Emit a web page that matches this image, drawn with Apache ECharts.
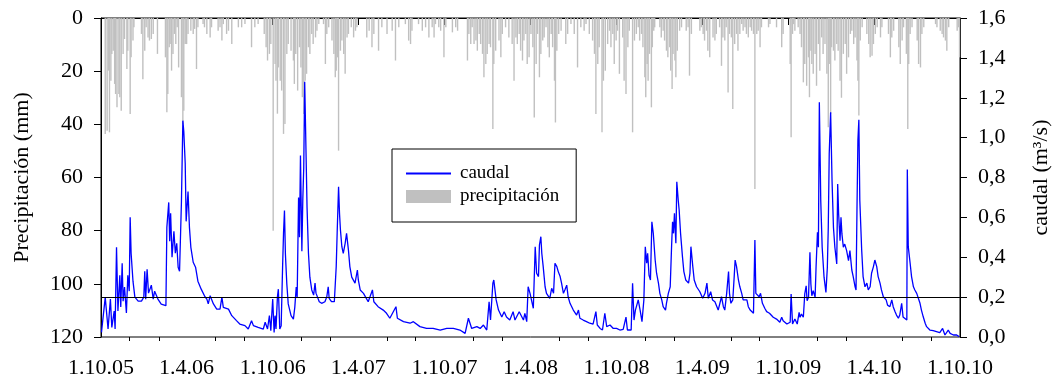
<!DOCTYPE html>
<html>
<head>
<meta charset="utf-8">
<script src="https://cdn.jsdelivr.net/npm/echarts@6/dist/echarts.min.js"></script>
<style>
html,body{margin:0;padding:0;background:#fff;}
#chart{width:1054px;height:382px;}
</style>
</head>
<body>
<div id="chart"></div>
<script>
// ---------------- DATA ----------------
// Periodo: 1.10.2005 - 1.10.2010 (serie diaria). Días contados desde 1.10.2005.
const startDate = '2005-10-01';
const endDate = '2010-10-01';
const majorTickMonths = [4, 10];       // etiquetas 1.4 y 1.10
const minorTickMonths = [2, 6, 8, 12]; // marcas menores
const leftTicks = [0, 20, 40, 60, 80, 100, 120];
const rightTicks = [0, 0.2, 0.4, 0.6, 0.8, 1.0, 1.2, 1.4, 1.6];
const umbralCaudal = 0.2;

// caudal (m3/s): [día, valor]
const caudalPts = [
[1,0.023],[9,0.199],[15,0.04],[20,0.19],[23,0.048],[28,0.13],[30,0.04],[33,0.45],[36,0.13],[40,0.31],[42,0.15],[45,0.37],[47,0.18],[50,0.25],[54,0.12],[57,0.31],[60,0.23],[62,0.6],[64,0.42],[68,0.28],[72,0.20],[79,0.18],[86,0.18],[91,0.2],[93,0.33],[95,0.19],[98,0.34],[101,0.22],[107,0.26],[111,0.19],[114,0.23],[121,0.19],[128,0.165],[138,0.157],[140,0.55],[144,0.675],[146,0.48],[148,0.62],[151,0.40],[155,0.53],[158,0.42],[161,0.47],[164,0.35],[167,0.33],[171,0.68],[174,1.085],[176,1.03],[179,0.87],[181,0.58],[185,0.73],[188,0.55],[191,0.45],[196,0.375],[201,0.35],[206,0.28],[213,0.24],
[221,0.202],[225,0.19],[228,0.166],[232,0.207],[235,0.216],[239,0.166],[246,0.14],[253,0.14],[257,0.2],[260,0.149],[271,0.14],[278,0.107],[288,0.082],[295,0.065],[306,0.057],[313,0.04],[320,0.082],[324,0.057],[334,0.048],[345,0.04],[349,0.074],[354,0.04],[358,0.107],[361,0.032],[365,0.19],[368,0.023],[370,0.107],[372,0.04],[375,0.2],[377,0.24],[380,0.04],[383,0.057],[386,0.35],[388,0.52],[390,0.634],[392,0.416],[395,0.266],[398,0.166],[404,0.107],[409,0.09],
[412,0.15],[415,0.25],[417,0.2],[420,0.70],[422,0.50],[424,0.91],[427,0.43],[429,0.69],[431,0.85],[433,1.28],[435,1.03],[438,0.65],[441,0.42],[444,0.30],[448,0.236],[452,0.21],
[455,0.27],[457,0.22],[460,0.227],[464,0.177],[469,0.169],[476,0.177],[480,0.202],[483,0.252],[485,0.194],[490,0.177],[496,0.177],[500,0.353],[502,0.52],[505,0.754],[507,0.62],[509,0.537],[512,0.453],[515,0.42],[519,0.47],[522,0.52],[526,0.436],[529,0.353],[533,0.30],[540,0.27],[545,0.336],[547,0.286],[551,0.236],[558,0.219],[568,0.177],[577,0.236],[580,0.177],[589,0.152],[593,0.16],[600,0.135],[607,0.119],[614,0.094],[627,0.152],[630,0.094],[643,0.077],[657,0.069],[664,0.077],[678,0.052],[692,0.043],[706,0.043],[721,0.035],[735,0.043],[749,0.043],[763,0.035],[774,0.018],[781,0.094],[788,0.043],[799,0.052],[806,0.043],[813,0.06],[820,0.035],[825,0.177],[828,0.085],[833,0.27],[835,0.286],[840,0.186],[845,0.135],[852,0.10],[857,0.127],[862,0.10],[869,0.085],[876,0.127],[880,0.085],[889,0.127],
[891,0.127],[898,0.085],[901,0.119],[905,0.077],[908,0.252],[912,0.219],[915,0.186],[919,0.144],[923,0.453],[926,0.32],[930,0.303],[932,0.461],[935,0.503],[937,0.42],[940,0.353],[944,0.252],[947,0.219],[954,0.194],[958,0.244],[962,0.219],[965,0.37],[969,0.353],[972,0.328],[976,0.303],[979,0.27],[983,0.219],[986,0.236],[990,0.26],[993,0.202],[997,0.169],[1004,0.135],[1011,0.11],[1015,0.135],[1018,0.094],[1025,0.085],[1032,0.077],[1039,0.069],[1046,0.065],[1052,0.127],[1055,0.06],[1061,0.043],[1066,0.035],[1071,0.119],[1075,0.052],[1082,0.06],[1089,0.043],[1096,0.043],[1103,0.035],[1110,0.038],[1116,0.10],[1119,0.035],[1123,0.043],[1127,0.035],[1130,0.27],[1133,0.085],[1136,0.135],[1139,0.16],[1142,0.186],[1146,0.135],[1150,0.077],[1154,0.186],[1157,0.453],[1160,0.37],[1162,0.42],[1165,0.31],[1168,0.286],[1171,0.578],[1174,0.52],[1178,0.386],[1181,0.32],[1185,0.27],[1188,0.219],[1192,0.186],[1195,0.152],[1200,0.135],[1202,0.169],[1206,0.219],[1210,0.252],[1213,0.461],[1215,0.578],[1217,0.52],[1219,0.62],[1222,0.47],[1224,0.779],[1227,0.687],[1229,0.637],[1232,0.52],[1236,0.403],[1239,0.328],[1243,0.286],[1249,0.27],[1252,0.32],[1254,0.453],[1258,0.353],[1261,0.286],[1266,0.252],[1273,0.227],[1279,0.194],[1284,0.219],[1288,0.27],[1291,0.194],[1296,0.227],[1300,0.186],[1305,0.177],[1312,0.135],[1316,0.127],[1319,0.202],[1323,0.152],[1326,0.135],[1330,0.219],[1334,0.328],[1336,0.219],[1339,0.169],[1343,0.186],[1346,0.303],[1348,0.386],[1351,0.353],[1355,0.286],[1358,0.252],[1362,0.219],[1365,0.186],[1373,0.186],[1376,0.152],[1380,0.135],[1383,0.127],[1387,0.119],[1390,0.487],[1392,0.219],[1395,0.21],[1399,0.202],[1402,0.219],[1406,0.169],[1411,0.144],[1415,0.127],[1421,0.119],
[1429,0.099],[1436,0.09],[1443,0.074],[1447,0.099],[1450,0.082],[1458,0.065],[1465,0.074],[1467,0.216],[1470,0.065],[1475,0.09],[1480,0.065],[1484,0.124],[1486,0.099],[1489,0.115],[1493,0.099],[1496,0.216],[1499,0.257],[1501,0.182],[1504,0.199],[1507,0.425],[1509,0.266],[1511,0.207],[1514,0.232],[1518,0.199],[1520,0.349],[1523,0.525],[1525,0.45],[1527,1.177],[1530,0.684],[1533,0.45],[1537,0.30],[1541,0.224],[1544,0.349],[1546,0.55],[1548,0.918],[1551,1.127],[1554,0.784],[1557,0.55],[1560,0.45],[1564,0.366],[1566,0.767],[1568,0.617],[1571,0.483],[1573,0.60],[1575,0.517],[1578,0.45],[1581,0.466],[1585,0.433],[1589,0.383],[1592,0.433],
[1596,0.336],[1599,0.303],[1603,0.252],[1605,0.236],[1607,0.637],[1609,0.988],[1611,1.089],[1613,0.687],[1617,0.436],[1620,0.303],[1624,0.252],[1628,0.27],[1631,0.236],[1635,0.252],[1638,0.32],[1642,0.353],[1645,0.386],[1649,0.353],[1652,0.303],[1656,0.27],[1659,0.236],[1663,0.202],[1669,0.186],[1672,0.16],[1677,0.152],[1681,0.186],[1684,0.152],[1688,0.127],[1691,0.11],[1695,0.094],[1698,0.11],[1702,0.169],[1705,0.10],[1709,0.094],[1713,0.085],[1714,0.84],[1716,0.453],[1720,0.37],[1723,0.303],[1727,0.252],[1730,0.236],[1734,0.219],[1737,0.21],[1741,0.169],[1744,0.135],[1748,0.10],[1752,0.069],[1755,0.052],[1762,0.035],[1769,0.032],[1776,0.027],[1783,0.022],[1789,0.043],[1794,0.01],[1801,0.035],[1805,0.018],[1812,0.01],[1819,0.01],[1824,0.002]
];

// precipitación (mm): [día, valor]
const precipPts = [
[9,43.6],[13,42.4],[16,19.8],[18,43],[21,23.6],[23,13.5],[26,12.3],[29,24.8],[31,28.6],[34,33.6],[38,28.6],[40,29.8],[43,34.9],[47,13.5],[50,7.9],[55,19.2],[57,12.3],[62,36.1],[64,14.8],[68,8.5],[70,3.5],[86,6],[89,23],[93,12.3],[96,3.5],[100,7.3],[103,8.5],[107,7.9],[111,6],[120,13.5],[137,14.8],[140,35.5],[142,28.6],[145,11],[147,9.8],[150,19.8],[153,13.5],[156,6],[159,9.8],[162,3.5],[165,18.6],[171,29.8],[174,39.9],[176,34.9],[179,9.8],[182,9.8],[185,6],[191,4.8],[196,6],[199,4.1],[203,19.2],[206,3.5],[217,2.3],[220,3.5],
[225,6],[232,7.3],[235,3.5],[249,4.8],[253,3.5],[257,8.5],[260,2.3],[267,6],[271,4.8],[278,9.8],[292,3.5],[299,3.5],[306,2.3],[320,11],[327,3.5],[334,2.3],[347,6],[351,11],[354,16],[358,13.5],[361,9.8],[366,80],[370,17.3],[372,23.6],[375,36],[377,18.6],[381,23.6],[384,27.3],[388,43.6],[391,39.9],[395,13.5],[398,9.8],[404,12.3],[409,16],[411,24.8],[414,13.5],[418,27.3],[422,11],[425,18.6],[428,29.8],[431,36.1],[434,23.6],[437,21],[441,11],[444,13.5],[448,6],[451,9.8],
[456,7.3],[459,4.8],[463,2.3],[473,2.3],[477,17.3],[480,6],[484,3.5],[491,8.5],[495,13.5],[498,22.3],[500,19.8],[503,14.8],[505,49.9],[509,12.3],[512,8.5],[516,13.5],[519,21],[523,7.3],[526,6],[532,3.5],[537,7.3],[541,4.8],[544,3.5],[565,7.3],[570,4.8],[576,11],[580,6],[590,12.3],[597,3.5],[608,6],[619,4.8],[626,16],[633,3.5],[647,2.3],[654,8.5],[658,9.8],[661,4.8],[675,2.3],
[683,4.8],[690,3.5],[697,7.3],[704,3.5],[708,7.3],[711,2.3],[718,3.5],[722,4.8],[729,14.8],[733,3.5],[747,5.4],[754,3.5],[758,4.8],[779,16],[782,6],[786,9.8],[789,3.5],[793,9.8],[797,8.5],[800,12.3],[804,6],[807,9.8],[811,13.5],[814,22.3],[818,17.3],[821,13.5],[825,9.8],[828,11],[833,41.8],[835,17.3],[839,12.3],[846,8.5],[850,14.8],[853,6],[860,3.5],[867,7.3],[874,9.8],[878,23.6],[882,7.3],[885,9.8],[889,6],[892,12.3],[896,16],[899,8.5],[903,6],[906,17.3],
[910,14.8],[914,6],[918,11],[921,37.4],[925,17.3],[928,6],[932,22.3],[935,13.5],[939,8.5],[942,7.3],[946,3.5],[950,11],[953,14.8],[957,6],[960,11],[964,23.6],[966,39.3],[969,12.3],[973,6],[978,4.8],[988,9.8],[992,6],[999,2.3],[1006,6],[1013,18.6],[1020,3.5],[1027,4.8],[1031,2.3],[1038,6],[1045,8.5],[1049,13.5],[1052,36.1],[1056,17.3],[1059,11],[1065,43],[1068,23.6],[1072,19.8],[1077,9.8],[1081,4.8],[1084,11],[1088,6],[1091,17.3],[1095,8.5],[1098,4.8],[1102,21],[1109,7.3],[1112,23.6],[1116,28.6],[1120,11],[1123,4.8],[1130,43],[1134,8.5],
[1138,6],[1142,3.5],[1145,8.5],[1149,6],[1152,11],[1156,22.3],[1158,29.8],[1161,17.3],[1163,23.6],[1166,13.5],[1170,33.6],[1172,11],[1175,4.8],[1177,3.5],[1188,3.5],[1191,7.3],[1195,4.8],[1198,8.5],[1202,12.3],[1205,14.8],[1209,11],[1211,19.8],[1214,26.7],[1216,13.5],[1220,16],[1222,22.3],[1225,12.3],[1230,4.8],[1234,3.5],[1244,4.8],[1248,3.5],[1251,21.7],[1255,6],[1273,4.8],[1276,3.5],[1280,6],[1283,8.5],[1287,4.8],[1290,12.3],[1294,14.8],[1301,7.3],[1305,8.5],[1308,6],[1315,3.5],[1319,18],[1322,7.3],[1326,8.5],[1329,3.5],[1333,28],[1336,6],[1340,7.3],[1343,34.2],[1347,9.8],[1351,6],[1354,12.3],[1358,6],
[1362,2.3],[1365,4.8],[1369,3.5],[1372,6],[1376,7.3],[1380,3.5],[1383,4.8],[1387,6],[1390,64.3],[1394,6],[1397,4.8],[1401,11],[1404,3.5],[1419,3.5],[1422,2.3],[1436,3.5],[1447,11],[1450,6],[1465,17.3],[1467,44.9],[1470,6],[1472,2.3],[1475,4.8],[1482,3.5],[1486,6],[1489,11],[1493,24.2],[1496,17.3],[1500,25.5],[1504,14.8],[1506,29.8],[1509,12.3],[1511,17.3],[1514,21],[1518,13.5],[1521,25.5],[1525,9.8],[1528,19.8],[1532,7.3],[1535,13.5],[1539,9.8],[1543,21],[1546,41.1],[1548,17.3],[1551,36.1],[1553,11],[1557,12.3],[1560,16],[1564,9.8],[1567,12.3],[1571,23.6],[1574,30],[1578,13.5],[1582,9.8],[1585,21],[1589,14.8],
[1593,6],[1596,4.8],[1600,9.8],[1603,7.3],[1607,16],[1609,23.6],[1611,36.7],[1614,8.5],[1618,3.5],[1628,6],[1632,9.8],[1635,14.8],[1639,14.2],[1642,9.8],[1646,6],[1650,3.5],[1657,7.3],[1660,3.5],[1674,6],[1678,14.8],[1681,7.3],[1685,4.8],[1696,11],[1699,17.3],[1703,8.5],[1706,3.5],[1712,13.5],[1715,41.8],[1717,17.3],[1720,6],[1724,3.5],[1735,8.5],[1738,17.3],[1742,18.6],[1745,6],[1749,3.5],[1774,2.3],[1777,3.5],[1784,4.8],[1788,6],[1791,7.3],[1795,8.5],[1798,12.3],[1802,3.5],[1820,4.8],[1823,3.5],[1825,14.8]
];

// ---------------- BUILD ----------------
const DAY = 86400000;
const t0 = Date.parse(startDate + 'T00:00:00Z');
const t1 = Date.parse(endDate + 'T00:00:00Z');
const nDays = Math.round((t1 - t0) / DAY) + 1;
const dates = [];
const labels = [];
for (let i = 0; i < nDays; i++) {
  const d = new Date(t0 + i * DAY);
  dates.push(d);
  labels.push(d.getUTCDate() + '.' + (d.getUTCMonth() + 1) + '.' + String(d.getUTCFullYear()).slice(2));
}
const caudalSeries = new Array(nDays).fill(null);
caudalPts.forEach(p => { caudalSeries[p[0]] = p[1]; });
const precipSeries = new Array(nDays).fill(null);
precipPts.forEach(p => { precipSeries[p[0]] = p[1]; });

const isMajor = i => dates[i].getUTCDate() === 1 && majorTickMonths.includes(dates[i].getUTCMonth() + 1);
const isMinor = i => dates[i].getUTCDate() === 1 && minorTickMonths.includes(dates[i].getUTCMonth() + 1);

const FONT = 'Liberation Serif';
const fmtComma = v => v.toFixed(1).replace('.', ',');

const chart = echarts.init(document.getElementById('chart'), null, {renderer: 'canvas'});
chart.setOption({
  animation: false,
  backgroundColor: '#fff',
  textStyle: {fontFamily: FONT, color: '#000'},
  grid: {left: 101, right: 94, top: 18, bottom: 45, containLabel: false, outerBoundsMode: 'none',
         show: true, borderColor: '#000', borderWidth: 1, backgroundColor: 'transparent'},
  legend: {
    orient: 'vertical', left: 392, top: 149,
    backgroundColor: '#fff',
    borderColor: '#000', borderWidth: 1,
    padding: [15, 17, 16, 13],
    itemWidth: 45, itemHeight: 13, itemGap: 4,
    textStyle: {fontFamily: FONT, fontSize: 19, color: '#000', padding: [0, 0, 0, 4]},
    data: [
      {name: 'caudal', itemStyle: {opacity: 0}},
      {name: 'precipitación', icon: 'rect'}
    ]
  },
  xAxis: [
    {
      type: 'category', data: labels, boundaryGap: false, position: 'bottom',
      axisLine: {show: true, lineStyle: {color: '#000', width: 1}},
      axisTick: {show: true, length: 7, interval: (i) => isMajor(i), lineStyle: {color: '#000'}},
      axisLabel: {interval: (i) => isMajor(i), margin: 20, fontFamily: FONT, fontSize: 22, color: '#000', showMinLabel: true, showMaxLabel: true},
      splitLine: {show: false}
    },
    {
      type: 'category', data: labels, boundaryGap: false, position: 'bottom',
      axisLine: {show: false},
      axisTick: {show: true, length: 4, interval: (i) => isMinor(i), lineStyle: {color: '#000'}},
      axisLabel: {show: false},
      splitLine: {show: false}
    }
  ],
  yAxis: [
    {
      type: 'value', min: leftTicks[0], max: leftTicks[leftTicks.length - 1], interval: leftTicks[1] - leftTicks[0], inverse: true,
      position: 'left',
      name: 'Precipitación (mm)', nameLocation: 'middle', nameRotate: 90, nameGap: 68,
      nameTextStyle: {fontFamily: FONT, fontSize: 22, color: '#000'},
      axisLine: {show: true, lineStyle: {color: '#000'}},
      axisTick: {show: true, length: 7, lineStyle: {color: '#000'}},
      axisLabel: {margin: 18, fontFamily: FONT, fontSize: 22, color: '#000'},
      splitLine: {show: false}
    },
    {
      type: 'value', min: rightTicks[0], max: rightTicks[rightTicks.length - 1], interval: 0.2,
      position: 'right',
      name: 'caudal (m³/s)', nameLocation: 'middle', nameRotate: 90, nameGap: 70,
      nameTextStyle: {fontFamily: FONT, fontSize: 22, color: '#000'},
      axisLine: {show: true, lineStyle: {color: '#000'}},
      axisTick: {show: true, length: 7, lineStyle: {color: '#000'}},
      axisLabel: {margin: 18, fontFamily: FONT, fontSize: 22, color: '#000', formatter: fmtComma},
      splitLine: {show: false}
    }
  ],
  series: [
    {
      name: 'precipitación', type: 'bar', xAxisIndex: 0, yAxisIndex: 0,
      data: precipSeries, barWidth: 1.4, barGap: '-100%',
      itemStyle: {color: '#c0c0c0'},
      silent: true, large: false
    },
    {
      name: 'caudal', type: 'line', xAxisIndex: 0, yAxisIndex: 1,
      data: caudalSeries, connectNulls: true, symbol: 'none', showSymbol: false,
      lineStyle: {color: '#0000ff', width: 1.3},
      itemStyle: {color: '#0000ff'},
      silent: true,
      markLine: {
        silent: true, symbol: 'none', label: {show: false},
        lineStyle: {color: '#000', type: 'solid', width: 1},
        data: [{yAxis: umbralCaudal}]
      }
    }
  ]
});
</script>
</body>
</html>
